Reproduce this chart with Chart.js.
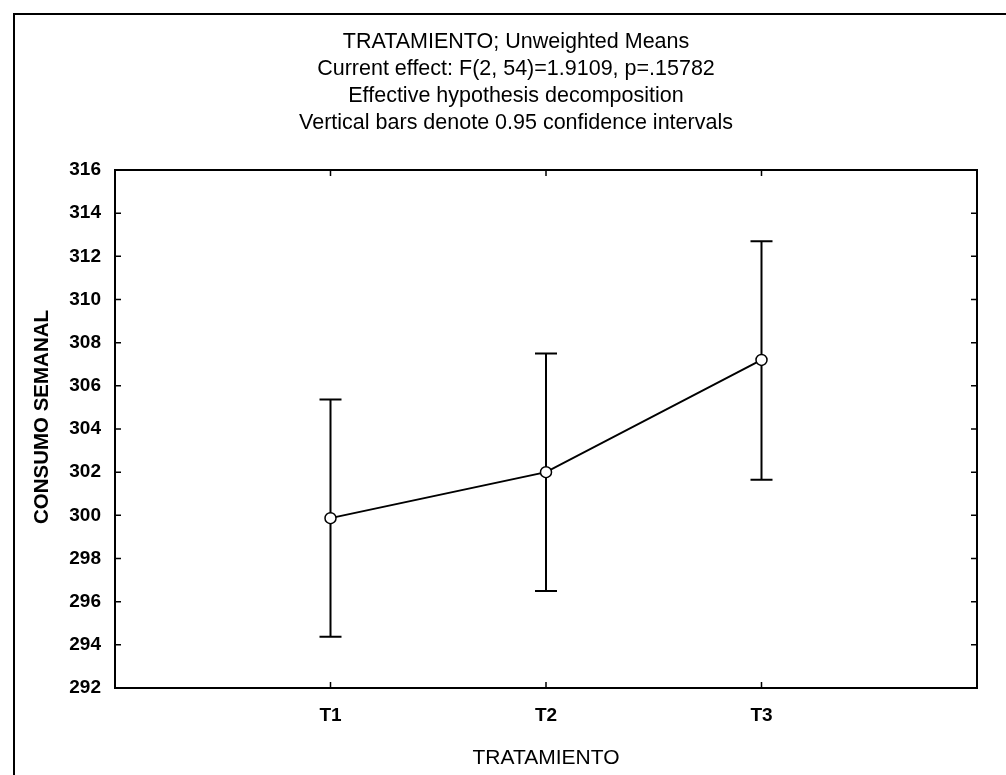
<!DOCTYPE html>
<html>
<head>
<meta charset="utf-8">
<script src="https://cdn.jsdelivr.net/npm/chart.js@4"></script>
<style>
html,body{margin:0;padding:0;background:#fff;}
#wrap{width:1006px;height:775px;position:relative;}
</style>
</head>
<body>
<div id="wrap"><canvas id="c" width="1006" height="775"></canvas></div>
<script>
const titleLines = [
  'TRATAMIENTO; Unweighted Means',
  'Current effect: F(2, 54)=1.9109, p=.15782',
  'Effective hypothesis decomposition',
  'Vertical bars denote 0.95 confidence intervals'
];
const categories = ['T1', 'T2', 'T3'];
const means = [299.87, 302.0, 307.2];
const lowerCI = [294.37, 296.5, 301.65];
const upperCI = [305.37, 307.5, 312.7];
const yTicks = [292, 294, 296, 298, 300, 302, 304, 306, 308, 310, 312, 314, 316];
const xTitle = 'TRATAMIENTO';
const yTitle = 'CONSUMO SEMANAL';

const FONT = "'Liberation Sans', Arial, sans-serif";

const points = means.map((m, i) => ({ x: i + 1, y: m }));

const decor = {
  id: 'decor',
  beforeDraw(chart) {
    const ctx = chart.ctx;
    ctx.save();
    ctx.fillStyle = '#fff';
    ctx.fillRect(0, 0, chart.width, chart.height);
    // outer frame (top and left)
    ctx.strokeStyle = '#000';
    ctx.lineWidth = 2;
    ctx.beginPath();
    ctx.moveTo(14, 775);
    ctx.lineTo(14, 14);
    ctx.lineTo(1006, 14);
    ctx.stroke();
    // titles
    ctx.fillStyle = '#000';
    ctx.font = '21.5px ' + FONT;
    ctx.textAlign = 'center';
    ctx.textBaseline = 'middle';
    titleLines.forEach((t, i) => ctx.fillText(t, 516, 42 + i * 27));
    // y axis title
    ctx.translate(42, 417);
    ctx.rotate(-Math.PI / 2);
    ctx.font = 'bold 20.5px ' + FONT;
    ctx.fillText(yTitle, 0, 0);
    ctx.restore();
  },
  beforeDatasetsDraw(chart) {
    const ctx = chart.ctx;
    const xs = chart.scales.x, ys = chart.scales.y;
    const a = chart.chartArea;
    ctx.save();
    ctx.strokeStyle = '#000';
    // inner ticks
    ctx.lineWidth = 1.5;
    ctx.beginPath();
    yTicks.forEach(v => {
      const py = ys.getPixelForValue(v);
      ctx.moveTo(a.left, py); ctx.lineTo(a.left + 6, py);
      ctx.moveTo(a.right, py); ctx.lineTo(a.right - 6, py);
    });
    categories.forEach((c, i) => {
      const px = xs.getPixelForValue(i + 1);
      ctx.moveTo(px, a.bottom); ctx.lineTo(px, a.bottom - 6);
      ctx.moveTo(px, a.top); ctx.lineTo(px, a.top + 6);
    });
    ctx.stroke();
    // error bars
    ctx.lineWidth = 2;
    ctx.beginPath();
    categories.forEach((c, i) => {
      const px = xs.getPixelForValue(i + 1);
      const lo = ys.getPixelForValue(lowerCI[i]);
      const hi = ys.getPixelForValue(upperCI[i]);
      ctx.moveTo(px, lo); ctx.lineTo(px, hi);
      ctx.moveTo(px - 11, lo); ctx.lineTo(px + 11, lo);
      ctx.moveTo(px - 11, hi); ctx.lineTo(px + 11, hi);
    });
    ctx.stroke();
    ctx.restore();
  },
  afterDraw(chart) {
    const ctx = chart.ctx;
    const a = chart.chartArea;
    ctx.save();
    ctx.strokeStyle = '#000';
    ctx.lineWidth = 2;
    ctx.strokeRect(a.left, a.top, a.right - a.left, a.bottom - a.top);
    ctx.restore();
  }
};

new Chart(document.getElementById('c'), {
  type: 'line',
  data: {
    datasets: [{
      data: points,
      borderColor: '#000',
      borderWidth: 2,
      pointRadius: 5.5,
      pointBackgroundColor: '#fff',
      pointBorderColor: '#000',
      pointBorderWidth: 1.5,
      tension: 0
    }]
  },
  options: {
    responsive: false,
    animation: false,
    events: [],
    layout: { padding: { top: 170, left: 16, right: 29, bottom: 0 } },
    plugins: { legend: { display: false }, title: { display: false }, tooltip: { enabled: false } },
    scales: {
      x: {
        type: 'linear',
        min: 0, max: 4,
        afterFit(s) { s.height = 87; },
        afterBuildTicks(s) { s.ticks = categories.map((c, i) => ({ value: i + 1 })); },
        ticks: {
          autoSkip: false,
          maxRotation: 0,
          padding: 16,
          color: '#000',
          font: { family: FONT, size: 19, weight: 'bold' },
          callback: v => categories[v - 1] || ''
        },
        grid: { display: false, drawTicks: false },
        border: { display: false },
        title: { display: true, text: xTitle, color: '#000', font: { family: FONT, size: 21 }, padding: { top: 8 } }
      },
      y: {
        type: 'linear',
        min: 292, max: 316,
        afterFit(s) { s.width = 99; },
        afterBuildTicks(s) { s.ticks = yTicks.map(v => ({ value: v })); },
        ticks: {
          autoSkip: false,
          padding: 14,
          color: '#000',
          font: { family: FONT, size: 19, weight: 'bold' }
        },
        grid: { display: false, drawTicks: false },
        border: { display: false },
        title: { display: false }
      }
    }
  },
  plugins: [decor]
});
</script>
</body>
</html>
